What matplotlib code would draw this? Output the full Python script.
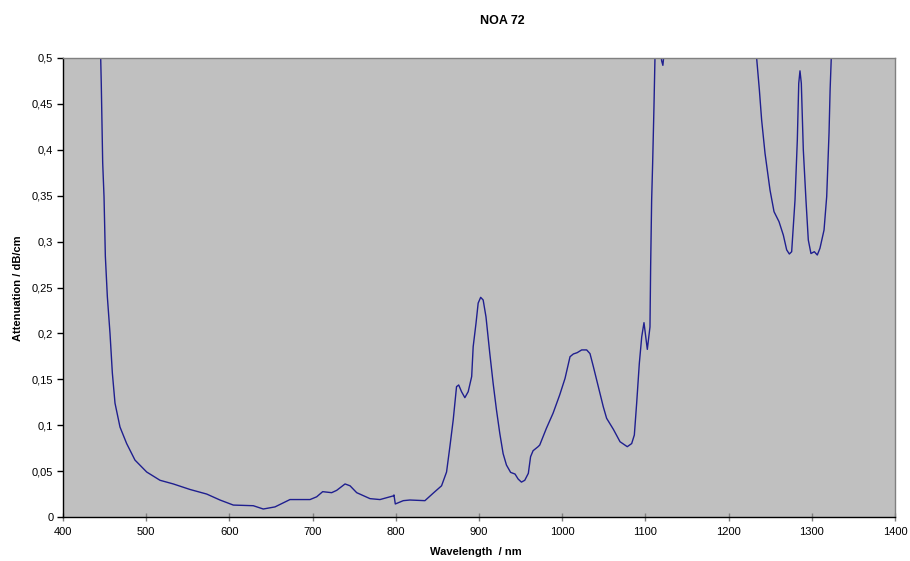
import matplotlib
matplotlib.use("Agg")
import matplotlib.pyplot as plt
from matplotlib.ticker import FuncFormatter

plt.rcParams['font.family'] = ['Liberation Sans', 'DejaVu Sans']

# Attenuation spectrum of NOA 72 (wavelength in nm, attenuation in dB/cm)
wavelength = [
    440, 445.3, 446, 447.7, 449.3, 450.9, 453.3, 456.5, 459.3, 462.5, 468.5,
    476.5, 486.5, 500.6, 516.6, 532.6, 552.6, 572.7, 588.7, 604.7, 628.7,
    640.7, 654.8, 672.8, 696.9, 704.9, 712.1, 722.9, 728.9, 739, 745, 753,
    769, 781, 797, 797.8, 799.4, 809, 817, 835, 845, 855, 861, 865, 869,
    873, 875.6, 879, 883, 887, 891.2, 893, 896.4, 899, 902, 905, 908.4,
    913, 917, 921, 925, 929, 933, 938, 943.3, 947, 951, 955, 959.3, 962,
    965, 971, 973, 981, 989, 997, 1003.4, 1009.4, 1013.4, 1018, 1023.4,
    1029.4, 1033.4, 1037.4, 1043.4, 1049.4, 1053.4, 1061.5, 1069.5, 1078.2,
    1083.5, 1086.7, 1089.5, 1092.7, 1095.6, 1098.3, 1102.3, 1105.5, 1106.3,
    1107.5, 1108.7, 1110.3, 1111.5, 1114, 1117, 1119.5, 1121, 1123, 1128,
    1150, 1200, 1228, 1233.7, 1237, 1239.7, 1243.8, 1249.8, 1254.6, 1260.6,
    1265.8, 1269.8, 1273, 1275.8, 1279.8, 1282.6, 1284.3, 1285.8, 1287.4,
    1289.8, 1293, 1295.8, 1299, 1303, 1306.6, 1309.8, 1314.7, 1317.9, 1320.7,
    1322, 1323.4, 1328, 1335,
]
attenuation = [
    0.60, 0.500, 0.472, 0.386, 0.349, 0.284, 0.240, 0.200, 0.157, 0.124, 0.098,
    0.080, 0.062, 0.049, 0.040, 0.036, 0.030, 0.025, 0.0185, 0.013, 0.0123,
    0.0087, 0.011, 0.019, 0.019, 0.022, 0.0276, 0.0265, 0.029, 0.036, 0.034, 0.0265,
    0.020, 0.019, 0.023, 0.024, 0.0142, 0.0178, 0.0185, 0.0178, 0.026, 0.034, 0.049,
    0.0766, 0.1057,
    0.142, 0.1438, 0.1365, 0.130, 0.1365, 0.153, 0.1855, 0.211, 0.233, 0.2393,
    0.2364, 0.218,
    0.178, 0.1456, 0.1166, 0.091, 0.069, 0.0566, 0.0486, 0.0468, 0.0414, 0.038,
    0.040, 0.0476, 0.0657,
    0.0722, 0.0766, 0.0784, 0.0966, 0.113, 0.133, 0.151, 0.1746, 0.1776, 0.179,
    0.182,
    0.182, 0.178, 0.164, 0.142, 0.120, 0.1075, 0.0955, 0.082, 0.0766,
    0.080, 0.0893, 0.124, 0.1674, 0.1964, 0.2117, 0.1826, 0.207, 0.2727,
    0.345, 0.385, 0.447, 0.500, 0.53, 0.52, 0.497, 0.492, 0.51, 0.60,
    0.80, 0.80, 0.56, 0.500, 0.465, 0.4325, 0.396, 0.356, 0.3326, 0.3217,
    0.307, 0.291, 0.2865, 0.289, 0.345, 0.4107, 0.4724, 0.486, 0.4724,
    0.400, 0.345, 0.3017, 0.287, 0.289, 0.2854, 0.2927, 0.3126, 0.349, 0.418,
    0.465, 0.500, 0.58, 0.75,
]

x_ticks = list(range(400, 1401, 100))
y_ticks = [i * 0.05 for i in range(11)]

fig = plt.figure(figsize=(9.1, 5.61), dpi=100)
fig.patch.set_facecolor('white')
ax = fig.add_axes([63 / 910, 44 / 561, 832 / 910, 459 / 561])
ax.set_facecolor('#C0C0C0')

ax.plot(wavelength, attenuation, color='#1F1F8F', linewidth=1.0)

ax.set_xlim(400, 1400)
ax.set_ylim(0, 0.5)
ax.set_xticks(x_ticks)
ax.set_yticks(y_ticks)


def comma_fmt(v, pos):
    if abs(v) < 1e-9:
        return '0'
    s = f'{v:.2f}'.rstrip('0').rstrip('.')
    return s.replace('.', ',')


ax.yaxis.set_major_formatter(FuncFormatter(comma_fmt))
ax.tick_params(axis='x', direction='inout', length=6, width=1, color='#808080',
               labelsize=8, pad=4)
ax.tick_params(axis='y', direction='out', length=4, width=1, color='black',
               labelsize=8, pad=3)

for side in ('top', 'right'):
    ax.spines[side].set_color('#808080')
    ax.spines[side].set_linewidth(1)
for side in ('left', 'bottom'):
    ax.spines[side].set_color('black')
    ax.spines[side].set_linewidth(1)

fig.text(502 / 910, 1 - 21 / 561, 'NOA 72', ha='center', va='center',
         fontsize=9, fontweight='bold')
fig.text(476 / 910, 1 - 552 / 561, 'Wavelength  / nm', ha='center', va='center',
         fontsize=8, fontweight='bold')
fig.text(18 / 910, 1 - 288 / 561, 'Attenuation / dB/cm', ha='center', va='center',
         rotation=90, fontsize=8, fontweight='bold')

fig.savefig('out.png', dpi=100, facecolor='white')
